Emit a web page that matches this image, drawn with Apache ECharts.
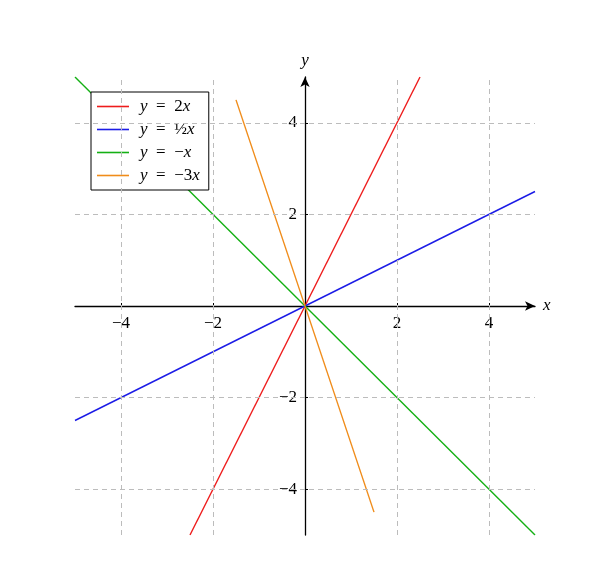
<!DOCTYPE html>
<html>
<head>
<meta charset="utf-8">
<script src="https://cdn.jsdelivr.net/npm/echarts@6/dist/echarts.min.js"></script>
<style>
html,body{margin:0;padding:0;background:#fff;}
#chart{width:595px;height:588px;}
</style>
</head>
<body>
<div id="chart"></div>
<script>
// ---- data ----
const axisMin = -5;
const axisMax = 5;
const tickValues = [-4, -2, 2, 4];
const tickLabels = ['\u22124', '\u22122', '2', '4'];
const gridValues = [-4, -2, 2, 4];
const seriesNames = ['y = 2x', 'y = ½x', 'y = −x', 'y = −3x'];
const legendLabels = [
  '{i|y}\u2002=\u20022{i|x}',
  '{i|y}\u2002=\u2002½{i|x}',
  '{i|y}\u2002=\u2002−{i|x}',
  '{i|y}\u2002=\u2002−3{i|x}'
];
const seriesColors = ['#ee1c1c', '#1c1ce6', '#14b014', '#f08c1a'];
const line2x = [[-2.5, -5], [2.5, 5]];
const lineHalf = [[-5, -2.5], [5, 2.5]];
const lineNeg = [[-5, 5], [5, -5]];
const lineNeg3 = [[-1.5, 4.5], [1.5, -4.5]];
const lineData = [line2x, lineHalf, lineNeg, lineNeg3];

const FONT = 'Liberation Serif';
const labelMap = {};
tickValues.forEach((v, i) => { labelMap[v] = tickLabels[i]; });
const legendMap = {};
seriesNames.forEach((n, i) => { legendMap[n] = legendLabels[i]; });

const GRID = { left: 75, right: 60, top: 77, bottom: 53 };
const W = 595, H = 588;
const plotW = W - GRID.left - GRID.right;
const plotH = H - GRID.top - GRID.bottom;

function axisCommon(name, offset, margin) {
  return {
    type: 'value',
    min: axisMin,
    max: axisMax,
    interval: 1,
    offset: offset,
    name: name,
    nameLocation: 'end',
    nameGap: 8,
    nameTextStyle: { fontFamily: FONT, fontStyle: 'italic', fontSize: 17, color: '#000' },
    axisLine: {
      show: true, onZero: false,
      symbol: ['none', 'arrow'], symbolSize: [7, 10],
      lineStyle: { color: '#000', width: 1.3 }
    },
    axisTick: { show: true, length: 3, customValues: tickValues, lineStyle: { color: '#000', width: 1 } },
    axisLabel: {
      show: true, customValues: tickValues,
      formatter: v => labelMap[v] !== undefined ? labelMap[v] : '',
      fontFamily: FONT, fontSize: 17, color: '#000', margin: margin
    },
    splitLine: { show: false }
  };
}
// companion axis drawing the inner half of each tick mark
function innerTicks(offset) {
  return {
    type: 'value', min: axisMin, max: axisMax, interval: 1, offset: offset,
    axisLine: { show: false, onZero: false },
    axisTick: { show: true, inside: true, length: 3, customValues: tickValues, lineStyle: { color: '#000', width: 1 } },
    axisLabel: { show: false },
    splitLine: { show: false }
  };
}

const series = seriesNames.map((n, i) => ({
  name: n,
  type: 'line',
  data: lineData[i],
  symbol: 'none',
  showSymbol: false,
  lineStyle: { color: seriesColors[i], width: 1.4 },
  itemStyle: { color: seriesColors[i] },
  xAxisIndex: 0,
  yAxisIndex: 0,
  z: 3
}));
series.unshift({
  name: 'grid',
  type: 'line',
  data: [],
  silent: true,
  z: 1,
  markLine: {
    silent: true,
    symbol: ['none', 'none'],
    label: { show: false },
    lineStyle: { color: '#bcbcbc', type: [5, 4], width: 1 },
    emphasis: { disabled: true },
    animation: false,
    data: gridValues.map(v => ({ xAxis: v })).concat(gridValues.map(v => ({ yAxis: v })))
  }
});

const chart = echarts.init(document.getElementById('chart'), null, { renderer: 'canvas' });
chart.setOption({
  animation: false,
  backgroundColor: '#fff',
  grid: Object.assign({ containLabel: false }, GRID),
  xAxis: [axisCommon('x', -plotH / 2, 9), Object.assign(innerTicks(-plotH / 2), { position: 'bottom' })],
  yAxis: [axisCommon('y', -plotW / 2, 8), Object.assign(innerTicks(-plotW / 2), { position: 'left' })],
  legend: {
    data: seriesNames,
    orient: 'vertical',
    left: 91,
    top: 92,
    padding: [6, 9, 6, 6],
    itemGap: 6,
    itemWidth: 32,
    itemHeight: 1.6,
    icon: 'rect',
    backgroundColor: '#fff',
    borderColor: '#000',
    borderWidth: 1,
    borderRadius: 0,
    selectedMode: false,
    formatter: n => legendMap[n],
    textStyle: {
      fontFamily: FONT, fontSize: 17, color: '#000', padding: [0, 0, 0, 6],
      rich: { i: { fontFamily: FONT, fontStyle: 'italic', fontSize: 17, color: '#000' } }
    }
  },
  series: series
});
</script>
</body>
</html>
